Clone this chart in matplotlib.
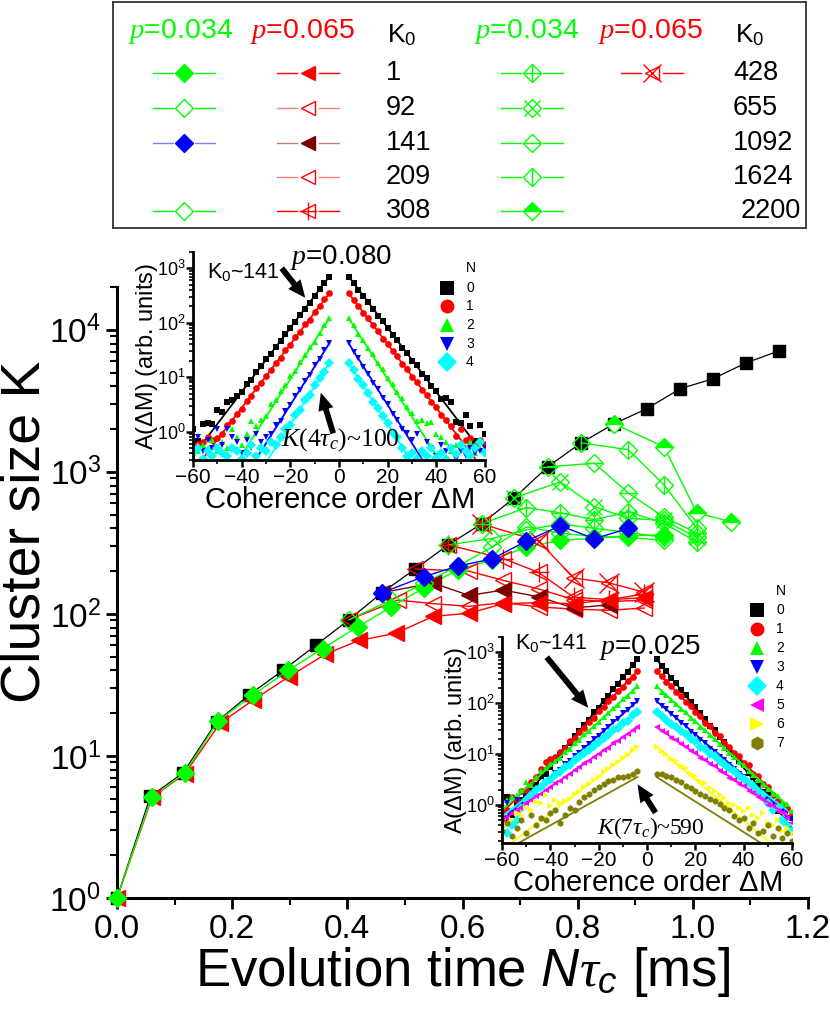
import numpy as np
import matplotlib
matplotlib.use("Agg")
import matplotlib.pyplot as plt
from matplotlib.ticker import LogLocator, MultipleLocator, NullFormatter, FixedLocator
from matplotlib.patches import FancyArrowPatch

plt.rcParams['font.family'] = ['Liberation Sans', 'DejaVu Sans']
plt.rcParams['mathtext.fontset'] = 'custom'
plt.rcParams['mathtext.rm'] = 'Liberation Sans'
plt.rcParams['mathtext.it'] = 'Liberation Serif:italic'
plt.rcParams['mathtext.sf'] = 'Liberation Sans:italic'

GREEN = "#00FF00"
RED = "#FF0000"
BLUE = "#0000FF"
MAROON = "#7F0000"
OLIVE = "#7F7F00"

# ---- main panel: cluster size K vs evolution time (ms) ----
T_BLK = [0.0, 0.058, 0.115, 0.173, 0.230, 0.288, 0.345, 0.403, 0.460, 0.518, 0.575,
         0.633, 0.690, 0.748, 0.806, 0.863, 0.920, 0.978, 1.035, 1.093, 1.150]
K_BLK = [1, 5.2, 7.6, 17.4, 27, 40, 60, 91, 141, 207, 306,
         430, 656, 1084, 1600, 2178, 2780, 3845, 4520, 5860, 7110]

# p = 0.034 (green)
T_G1 = [0.0, 0.060, 0.118, 0.176, 0.237, 0.297, 0.357, 0.418, 0.476, 0.533, 0.592,
        0.652, 0.711, 0.770, 0.829, 0.888, 0.950]
K_G1 = [1, 5.1, 7.6, 17.7, 27, 40, 57, 81, 112, 152, 205, 240, 295, 330, 340, 355, 360]
T_G92 = [0.403, 0.476, 0.533, 0.592, 0.652, 0.711, 0.770, 0.829, 0.888, 0.950]
K_G92 = [91, 125, 165, 217, 296, 410, 370, 350, 345, 330]
T_G141 = [0.460, 0.533, 0.592, 0.652, 0.711, 0.770, 0.829, 0.888]
K_G141 = [141, 183, 217, 244, 326, 417, 338, 400]
T_G308 = [0.575, 0.652, 0.711, 0.770, 0.829, 0.888, 0.950]
K_G308 = [306, 340, 390, 430, 400, 375, 345]
T_G428 = [0.633, 0.711, 0.770, 0.829, 0.888, 0.950, 1.007]
K_G428 = [430, 560, 515, 460, 522, 435, 320]
T_G655 = [0.690, 0.770, 0.829, 0.888, 0.950, 1.007]
K_G655 = [656, 850, 570, 470, 455, 345]
T_G1092 = [0.748, 0.829, 0.888, 0.950, 1.007]
K_G1092 = [1084, 1150, 710, 480, 370]
T_G1624 = [0.806, 0.888, 0.950, 1.007]
K_G1624 = [1600, 1430, 810, 400]
T_G2200 = [0.863, 0.950, 1.007, 1.066]
K_G2200 = [2178, 1500, 515, 445]

# p = 0.065 (red)
T_R1 = [0.0, 0.061, 0.118, 0.179, 0.237, 0.298, 0.362, 0.420, 0.484, 0.549, 0.611,
        0.671, 0.732, 0.793, 0.855, 0.916]
K_R1 = [1, 5.1, 7.5, 17, 24.8, 36, 52, 65, 73, 96, 101, 118, 120, 118, 126, 130]
T_R92 = [0.403, 0.488, 0.549, 0.611, 0.671, 0.732, 0.793, 0.855, 0.916]
K_R92 = [91, 125, 118, 113, 120, 112, 108, 106, 110]
T_R141 = [0.460, 0.549, 0.611, 0.671, 0.732, 0.793, 0.855]
K_R141 = [141, 165, 135, 147, 132, 110, 116]
T_R209 = [0.518, 0.611, 0.671, 0.732, 0.793, 0.855, 0.916]
K_R209 = [207, 200, 172, 150, 126, 122, 125]
T_R308 = [0.575, 0.671, 0.732, 0.793, 0.855, 0.916]
K_R308 = [306, 245, 196, 131, 126, 138]
T_R428 = [0.633, 0.732, 0.793, 0.855, 0.916]
K_R428 = [430, 326, 179, 165, 142]

# ---- insets: log10 A(dM) at dM = +-4 ... +-60 ----
DM = [4, 6, 8, 10, 12, 14, 16, 18, 20, 22, 24, 26, 28, 30, 32, 34, 36, 38, 40, 42,
      44, 46, 48, 50, 52, 54, 56, 58, 60]

# top inset, p = 0.080, N = 0..4
TOP_N0_NEG = [2.85, 2.73, 2.62, 2.50, 2.37, 2.26, 2.15, 2.02, 1.90, 1.80, 1.66, 1.56, 1.42, 1.34, 1.20,
              1.10, 0.95, 0.88, 0.72, 0.66, 0.58, 0.55, 0.36, 0.40, 0.13, 0.15, 0.13, -0.18, 0.05]
TOP_N0_POS = [2.85, 2.74, 2.61, 2.49, 2.39, 2.25, 2.13, 2.04, 1.90, 1.78, 1.68, 1.54, 1.45, 1.30, 1.22,
              1.06, 0.98, 0.83, 0.75, 0.60, 0.62, 0.55, 0.18, 0.15, 0.30, 0.10, -0.18, 0.12, -0.05]
TOP_N1_NEG = [2.54, 2.43, 2.30, 2.20, 2.06, 1.97, 1.83, 1.73, 1.60, 1.50, 1.36, 1.26, 1.13, 1.03, 0.89,
              0.80, 0.66, 0.56, 0.42, 0.33, 0.20, 0.12, -0.05, -0.12, -0.15, -0.10, -0.20, -0.22, -0.25]
TOP_N1_POS = [2.54, 2.42, 2.31, 2.18, 2.08, 1.95, 1.85, 1.71, 1.61, 1.48, 1.38, 1.24, 1.15, 1.01, 0.91,
              0.77, 0.68, 0.54, 0.45, 0.30, 0.22, 0.10, -0.08, 0.05, -0.15, -0.12, -0.25, -0.15, -0.22]
TOP_N2_NEG = [2.08, 1.95, 1.82, 1.64, 1.55, 1.40, 1.28, 1.12, 1.02, 0.86, 0.75, 0.58, 0.50, 0.28, 0.22,
              0.10, 0.20, -0.05, -0.25, -0.10, 0.05, -0.30, -0.20, -0.35, -0.15, -0.30, -0.25, -0.35, -0.30]
TOP_N2_POS = [2.08, 1.96, 1.80, 1.68, 1.53, 1.42, 1.26, 1.15, 0.99, 0.88, 0.72, 0.62, 0.45, 0.35, 0.20,
              0.22, 0.15, 0.18, -0.05, -0.10, -0.20, -0.35, -0.25, -0.30, -0.35, -0.20, -0.40, -0.30, -0.35]
TOP_N3_NEG = [1.62, 1.50, 1.33, 1.22, 1.04, 0.93, 0.76, 0.66, 0.48, 0.38, 0.20, 0.12, -0.05, -0.10, -0.20,
              -0.05, -0.30, -0.15, -0.40, -0.20, -0.10, 0.05, -0.25, 0.05, -0.30, -0.15, -0.35, -0.10, -0.20]
TOP_N3_POS = [1.62, 1.47, 1.35, 1.19, 1.06, 0.90, 0.78, 0.62, 0.50, 0.33, 0.22, 0.05, -0.02, -0.15, -0.05,
              -0.40, -0.20, -0.30, -0.45, -0.25, -0.35, -0.30, -0.50, -0.35, -0.45, -0.30, -0.40, -0.35, -0.30]
TOP_N4_NEG = [1.26, 1.10, 0.99, 0.85, 0.68, 0.58, 0.40, 0.30, 0.12, 0.05, -0.10, -0.25, -0.20, -0.35, -0.30,
              -0.45, -0.25, -0.40, -0.50, -0.35, -0.30, -0.45, -0.40, -0.30, -0.45, -0.35, -0.50, -0.30, -0.40]
TOP_N4_POS = [1.26, 1.13, 0.97, 0.86, 0.70, 0.55, 0.43, 0.28, 0.15, -0.02, -0.10, -0.30, -0.45, -0.40, -0.50,
              -0.35, -0.45, -0.30, -0.48, -0.40, -0.50, -0.30, -0.42, -0.25, -0.35, -0.45, -0.30, -0.20, -0.40]
TOP_FIT_PEAK = [2.85, 2.54, 2.08, 1.62, 1.26]
TOP_FIT_EDGE_DM = [60, 56, 41, 34, 29]
TOP_FIT_EDGE_LOG = [-0.45, -0.50, -0.50, -0.50, -0.50]

# bottom inset, p = 0.025, N = 0..7
BOT_N0_NEG = [2.86, 2.75, 2.62, 2.52, 2.38, 2.28, 2.15, 2.05, 1.91, 1.82, 1.68, 1.58, 1.45, 1.35, 1.21,
              1.12, 0.98, 0.88, 0.75, 0.62, 0.58, 0.40, 0.30, 0.20, 0.10, 0.05, -0.20, 0.15, -0.40]
BOT_N0_POS = [2.86, 2.74, 2.64, 2.50, 2.40, 2.26, 2.17, 2.03, 1.93, 1.80, 1.70, 1.56, 1.47, 1.33, 1.23,
              1.10, 1.00, 0.86, 0.78, 0.63, 0.55, 0.42, 0.25, 0.22, 0.05, -0.12, -0.05, -0.40, -0.25]
BOT_N1_NEG = [2.63, 2.52, 2.44, 2.32, 2.24, 2.12, 2.04, 1.92, 1.84, 1.72, 1.64, 1.52, 1.44, 1.32, 1.25,
              1.12, 1.05, 0.95, 0.90, 0.85, 0.70, 0.55, 0.46, 0.30, 0.28, 0.10, 0.15, -0.10, -0.20]
BOT_N1_POS = [2.63, 2.54, 2.42, 2.34, 2.22, 2.14, 2.02, 1.94, 1.82, 1.74, 1.62, 1.55, 1.42, 1.35, 1.22,
              1.15, 1.02, 0.96, 0.82, 0.78, 0.62, 0.58, 0.42, 0.35, 0.20, 0.10, 0.02, -0.05, -0.15]
BOT_N2_NEG = [2.33, 2.25, 2.15, 2.08, 1.97, 1.91, 1.80, 1.73, 1.63, 1.56, 1.45, 1.39, 1.28, 1.21, 1.10,
              1.04, 0.93, 0.86, 0.80, 0.72, 0.66, 0.55, 0.40, 0.45, 0.30, 0.20, 0.15, 0.10, 0.05]
BOT_N2_POS = [2.33, 2.23, 2.17, 2.06, 1.99, 1.89, 1.82, 1.71, 1.65, 1.54, 1.47, 1.37, 1.30, 1.19, 1.12,
              1.02, 0.95, 0.84, 0.78, 0.66, 0.60, 0.50, 0.42, 0.32, 0.22, 0.18, 0.05, 0.02, -0.12]
BOT_N3_NEG = [2.04, 1.97, 1.86, 1.80, 1.70, 1.63, 1.53, 1.46, 1.36, 1.30, 1.19, 1.13, 1.03, 0.96, 0.86,
              0.80, 0.69, 0.63, 0.52, 0.46, 0.35, 0.30, 0.18, 0.15, 0.00, 0.10, -0.15, 0.05, -0.20]
BOT_N3_POS = [2.04, 1.95, 1.88, 1.78, 1.72, 1.61, 1.55, 1.44, 1.38, 1.28, 1.21, 1.11, 1.05, 0.94, 0.88,
              0.78, 0.71, 0.61, 0.55, 0.44, 0.38, 0.27, 0.22, 0.10, 0.05, -0.08, -0.10, -0.25, -0.28]
BOT_N4_NEG = [1.82, 1.76, 1.66, 1.61, 1.52, 1.47, 1.37, 1.32, 1.23, 1.17, 1.08, 1.03, 0.94, 0.88, 0.79,
              0.74, 0.65, 0.59, 0.50, 0.45, 0.35, 0.30, 0.20, 0.10, -0.05, -0.30, -0.40, -0.55, -0.35]
BOT_N4_POS = [1.82, 1.74, 1.68, 1.59, 1.54, 1.45, 1.39, 1.30, 1.25, 1.15, 1.10, 1.01, 0.96, 0.86, 0.81,
              0.72, 0.67, 0.57, 0.52, 0.43, 0.37, 0.28, 0.20, 0.05, -0.10, -0.05, -0.30, -0.40, -0.50]
BOT_N5_NEG = [1.53, 1.47, 1.39, 1.34, 1.26, 1.21, 1.13, 1.08, 1.00, 0.95, 0.87, 0.82, 0.74, 0.69, 0.61,
              0.56, 0.48, 0.43, 0.35, 0.30, 0.22, 0.17, 0.09, 0.05, -0.05, -0.10, -0.15, -0.25, -0.30]
BOT_N5_POS = [1.53, 1.45, 1.41, 1.32, 1.28, 1.19, 1.15, 1.06, 1.02, 0.93, 0.89, 0.80, 0.76, 0.67, 0.63,
              0.54, 0.50, 0.41, 0.37, 0.28, 0.24, 0.15, 0.10, 0.00, -0.02, -0.12, -0.15, -0.25, -0.35]
BOT_N6_NEG = [1.14, 1.08, 0.99, 0.93, 0.84, 0.79, 0.70, 0.64, 0.55, 0.50, 0.41, 0.36, 0.26, 0.22, 0.12,
              0.08, 0.05, 0.10, -0.02, 0.20, 0.05, 0.07, -0.10, -0.05, -0.20, -0.15, -0.30, -0.40, -0.50]
BOT_N6_POS = [1.14, 1.06, 1.01, 0.91, 0.86, 0.77, 0.72, 0.62, 0.57, 0.48, 0.43, 0.33, 0.28, 0.19, 0.14,
              0.04, 0.00, -0.05, -0.12, -0.05, -0.20, -0.25, -0.15, -0.35, -0.40, -0.30, -0.50, -0.45, -0.55]
BOT_N7_NEG = [0.66, 0.62, 0.58, 0.56, 0.55, 0.50, 0.47, 0.42, 0.35, 0.29, 0.22, 0.15, 0.06, -0.10, -0.05,
              -0.20, -0.35, -0.10, -0.15, -0.30, -0.25, -0.40, -0.20, -0.55, -0.30, -0.45, -0.60, -0.35, -0.50]
BOT_N7_POS = [0.62, 0.62, 0.58, 0.55, 0.50, 0.45, 0.38, 0.33, 0.28, 0.22, 0.18, 0.12, 0.08, 0.02, -0.05,
              -0.10, -0.22, -0.30, -0.25, -0.45, -0.35, -0.55, -0.50, -0.40, -0.60, -0.45, -0.65, -0.55, -0.70]
BOT_FIT_PEAK = [2.86, 2.63, 2.33, 2.04, 1.82, 1.53, 1.14, 0.55]
BOT_FIT_EDGE_DM_NEG = [60, 60, 60, 60, 60, 60, 56, 53]
BOT_FIT_EDGE_LOG_NEG = [-0.41, -0.16, -0.10, -0.30, -0.22, -0.30, -0.74, -0.74]
BOT_FIT_EDGE_DM_POS = [60, 58, 58, 58, 58, 58, 51, 47]
BOT_FIT_EDGE_LOG_POS = [-0.45, -0.05, 0.00, -0.15, -0.10, -0.20, -0.74, -0.74]

INSET_COLORS = ["k", RED, GREEN, BLUE, "#00FFFF", "#FF00FF", "#FFFF00", OLIVE]
INSET_MARKERS = ["s", "o", "^", "v", "D", "<", ">", "h"]

fig = plt.figure(figsize=(8.3, 10.14), dpi=100)


def fx(x):
    return x / 830.0


def fy(y):
    return 1 - y / 1014.0


# ---------------- main axes ----------------
ax = fig.add_axes([fx(117), fy(898), (808 - 117) / 830, (898 - 287) / 1014])
ax.set_xlim(0, 1.2)
ax.set_yscale("log")
ax.set_ylim(1, 2e4)
for s in ["top", "right"]:
    ax.spines[s].set_visible(False)
for s in ["left", "bottom"]:
    ax.spines[s].set_linewidth(2.2)
ax.xaxis.set_major_locator(MultipleLocator(0.2))
ax.xaxis.set_minor_locator(MultipleLocator(0.1))
ax.xaxis.set_major_formatter(plt.FuncFormatter(lambda v, p: f"{v:.1f}"))
ax.yaxis.set_major_locator(LogLocator(base=10, numticks=10))
ax.yaxis.set_minor_locator(LogLocator(base=10, subs=np.arange(2, 10), numticks=10))
ax.yaxis.set_minor_formatter(NullFormatter())
ax.tick_params(which="major", direction="out", length=8, width=2, labelsize=24)
ax.tick_params(which="minor", direction="out", length=5, width=1.5)
ax.set_xlabel(r"Evolution time $\mathsf{N}\tau_{\mathsf{c}}$ [ms]", fontsize=38, labelpad=0)
ax.set_ylabel("Cluster size K", fontsize=40)
ax.yaxis.set_label_coords(-0.095, 0.60)

ax.plot(T_BLK, K_BLK, "-", color="k", lw=0.9, marker="s", ms=8.5, mfc="k", mec="k",
        zorder=3, clip_on=False)


def series(t, k, color, mk, fill="full", extra=None, ms=9, lc=None, z=4):
    ax.plot(t, k, "-", color=lc or color, lw=1.0, zorder=z, clip_on=False)
    if fill == "full":
        kw = dict(mfc=color)
    elif fill == "top":
        kw = dict(fillstyle="top", mfc=color, markerfacecoloralt="white")
    else:
        kw = dict(mfc="none")
    ax.plot(t, k, ls="none", marker=mk, ms=ms, mec=color, mew=1.0, zorder=z + 0.1,
            clip_on=False, **kw)
    if extra:
        ax.plot(t, k, ls="none", marker=extra, ms=ms * 1.25, mec=color, mew=1.0,
                zorder=z + 0.1, clip_on=False)


series(T_R428, K_R428, RED, "<", "none", "x", ms=11)
series(T_R308, K_R308, RED, "<", "none", "+", ms=11)
series(T_R209, K_R209, RED, "<", "none", ms=11)
series(T_R92, K_R92, RED, "<", "none", ms=11)
series(T_R141, K_R141, MAROON, "<", "full", ms=11)
series(T_R1, K_R1, RED, "<", "full", ms=11)
series(T_G2200, K_G2200, GREEN, "D", "top", ms=9)
series(T_G1624, K_G1624, GREEN, "D", "none", "|", ms=9)
series(T_G1092, K_G1092, GREEN, "D", "none", "_", ms=9)
series(T_G655, K_G655, GREEN, "D", "none", "x", ms=9)
series(T_G428, K_G428, GREEN, "D", "none", "+", ms=9)
series(T_G308, K_G308, GREEN, "D", "none", ms=9)
series(T_G92, K_G92, GREEN, "D", "none", ms=9)
series(T_G1, K_G1, GREEN, "D", "full", ms=9)
series(T_G141, K_G141, BLUE, "D", "full", ms=9, z=5)

# ---------------- insets ----------------
def make_inset(rect, ylim, neg, pos, peaks, edge_dm_neg, edge_log_neg, edge_dm_pos, edge_log_pos, ms):
    a = fig.add_axes(rect)
    a.patch.set_visible(False)
    a.set_xlim(-60, 60)
    a.set_yscale("log")
    a.set_ylim(*ylim)
    for s in ["top", "right"]:
        a.spines[s].set_visible(False)
    for s in ["left", "bottom"]:
        a.spines[s].set_linewidth(2)
    a.xaxis.set_major_locator(FixedLocator([-60, -40, -20, 0, 20, 40, 60]))
    a.xaxis.set_minor_locator(MultipleLocator(10))
    a.yaxis.set_major_locator(LogLocator(base=10, numticks=10))
    a.yaxis.set_minor_locator(LogLocator(base=10, subs=np.arange(2, 10), numticks=10))
    a.yaxis.set_minor_formatter(NullFormatter())
    a.tick_params(which="major", direction="out", length=5, width=1.8, labelsize=15, pad=1)
    a.tick_params(which="minor", direction="out", length=3, width=1.2)
    a.tick_params(axis="y", labelsize=13, pad=0)
    a.set_xlabel(r"Coherence order $\Delta$M", fontsize=21, labelpad=-1)
    a.set_ylabel(r"A($\Delta$M) (arb. units)", fontsize=17, labelpad=-2)
    dm = np.array(DM)
    for i in range(len(neg)):
        c, m = INSET_COLORS[i], INSET_MARKERS[i]
        a.plot(-dm, 10 ** np.array(neg[i]), ls="none", marker=m, ms=ms, color=c, mew=0)
        a.plot(dm, 10 ** np.array(pos[i]), ls="none", marker=m, ms=ms, color=c, mew=0)
        a.plot([-4, -edge_dm_neg[i]], [10 ** peaks[i], 10 ** edge_log_neg[i]], color=c, lw=1.3)
        a.plot([4, edge_dm_pos[i]], [10 ** peaks[i], 10 ** edge_log_pos[i]], color=c, lw=1.3)
    return a


ax1 = make_inset([fx(193), fy(460), (485 - 193) / 830, (460 - 252) / 1014], (0.3, 2000),
                 [TOP_N0_NEG, TOP_N1_NEG, TOP_N2_NEG, TOP_N3_NEG, TOP_N4_NEG],
                 [TOP_N0_POS, TOP_N1_POS, TOP_N2_POS, TOP_N3_POS, TOP_N4_POS],
                 TOP_FIT_PEAK, TOP_FIT_EDGE_DM, TOP_FIT_EDGE_LOG, TOP_FIT_EDGE_DM, TOP_FIT_EDGE_LOG, 4.8)
ax2 = make_inset([fx(502), fy(843), (792 - 502) / 830, (843 - 637) / 1014], (0.18, 2000),
                 [BOT_N0_NEG, BOT_N1_NEG, BOT_N2_NEG, BOT_N3_NEG, BOT_N4_NEG, BOT_N5_NEG, BOT_N6_NEG, BOT_N7_NEG],
                 [BOT_N0_POS, BOT_N1_POS, BOT_N2_POS, BOT_N3_POS, BOT_N4_POS, BOT_N5_POS, BOT_N6_POS, BOT_N7_POS],
                 BOT_FIT_PEAK, BOT_FIT_EDGE_DM_NEG, BOT_FIT_EDGE_LOG_NEG, BOT_FIT_EDGE_DM_POS,
                 BOT_FIT_EDGE_LOG_POS, 4.8)

# inset legends (N)
def inset_legend(xm, ys, n, ytitle):
    fig.text(fx(xm + 19), fy(ytitle), "N", fontsize=10, ha="left", va="center")
    for i in range(n):
        fig.add_artist(plt.Line2D([fx(xm)], [fy(ys[i])], marker=INSET_MARKERS[i], ms=10,
                                  color=INSET_COLORS[i], mew=0, ls="none"))
        fig.text(fx(xm + 19), fy(ys[i]), str(i), fontsize=10, ha="left", va="center")


inset_legend(447, [288, 306, 325, 344, 362], 5, 268)
inset_legend(757, [610, 629, 648, 667, 686, 705, 724, 743], 8, 591)


def arrow(x0, y0, x1, y1):
    fig.add_artist(FancyArrowPatch((fx(x0), fy(y0)), (fx(x1), fy(y1)), transform=fig.transFigure,
                                   arrowstyle="simple,head_length=0.9,head_width=0.8,tail_width=0.3",
                                   mutation_scale=14, color="k", lw=0))


fig.text(fx(207), fy(272), r"K$_0$~141", fontsize=15.5, ha="left", va="center")
fig.text(fx(290), fy(257), r"$p$=0.080", fontsize=20, ha="left", va="center")
fig.text(fx(281), fy(440), r"$K$(4$\tau_c$)~100", fontsize=18.5, ha="left", va="center",
         family="Liberation Serif")
arrow(280, 266, 307, 300)
arrow(334, 436, 320, 390)

fig.text(fx(515), fy(643), r"K$_0$~141", fontsize=15.5, ha="left", va="center")
fig.text(fx(599), fy(647), r"$p$=0.025", fontsize=20, ha="left", va="center")
fig.text(fx(597), fy(828), r"$K$(7$\tau_c$)~590", fontsize=17, ha="left", va="center",
         family="Liberation Serif")
arrow(545, 655, 590, 710)
arrow(657, 815, 636, 782)

# ---------------- legend box ----------------
lg = fig.add_axes([fx(113), fy(228), (806 - 113) / 830, 226 / 1014])
lg.set_xlim(113, 806)
lg.set_ylim(228, 2)
lg.set_xticks([])
lg.set_yticks([])
for s in lg.spines.values():
    s.set_linewidth(1.3)
    s.set_color("#333333")

ROWS = [73, 108, 143, 177, 211]


def leg_entry(x, y, color, mk, fill, extra=None, ms=9, lc=None):
    lg.plot([x - 31, x - 11], [y, y], color=lc or color, lw=1)
    lg.plot([x + 11, x + 31], [y, y], color=lc or color, lw=1)
    if fill == "full":
        kw = dict(mfc=color)
    elif fill == "top":
        kw = dict(fillstyle="top", mfc=color, markerfacecoloralt="white")
    else:
        kw = dict(mfc="white")
    lg.plot([x], [y], marker=mk, ms=ms, mec=color, mew=1.0, ls="none", **kw)
    if extra:
        lg.plot([x], [y], marker=extra, ms=ms * 1.25, mec=color, mew=1.0, ls="none")


for xc in (181, 527):
    lg.text(xc, 32, r"$p$=0.034", color=GREEN, fontsize=20.5, ha="center", va="center")
for xc in (302, 650):
    lg.text(xc, 32, r"$p$=0.065", color=RED, fontsize=20.5, ha="center", va="center")
lg.text(387, 35, r"K$_0$", fontsize=19, ha="left", va="center")
lg.text(735, 35, r"K$_0$", fontsize=19, ha="left", va="center")

leg_entry(184, ROWS[0], GREEN, "D", "full")
leg_entry(184, ROWS[1], GREEN, "D", "none")
leg_entry(184, ROWS[2], BLUE, "D", "full", lc="#8080FF")
leg_entry(184, ROWS[4], GREEN, "D", "none")
leg_entry(308, ROWS[0], RED, "<", "full", ms=10)
leg_entry(308, ROWS[1], RED, "<", "none", ms=10, lc="#FF8080")
leg_entry(308, ROWS[2], MAROON, "<", "full", ms=10, lc="#BF8080")
leg_entry(308, ROWS[3], RED, "<", "none", ms=10, lc="#FF8080")
leg_entry(308, ROWS[4], RED, "<", "none", "+", ms=10)
for txt, y in zip(["1", "92", "141", "209", "308"], ROWS):
    lg.text(386, y, txt, fontsize=19.5, ha="left", va="center")

leg_entry(532, ROWS[0], GREEN, "D", "none", "+")
leg_entry(532, ROWS[1], GREEN, "D", "none", "x")
leg_entry(532, ROWS[2], GREEN, "D", "none", "_")
leg_entry(532, ROWS[3], GREEN, "D", "none", "|")
leg_entry(532, ROWS[4], GREEN, "D", "top")
leg_entry(652, ROWS[0], RED, "<", "none", "x", ms=10)
for txt, y, xo in zip(["428", "655", "1092", "1624", "2200"], ROWS, [733, 733, 733, 733, 741]):
    lg.text(xo, y, txt, fontsize=19.5, ha="left", va="center")

fig.savefig("out.png", dpi=100)
